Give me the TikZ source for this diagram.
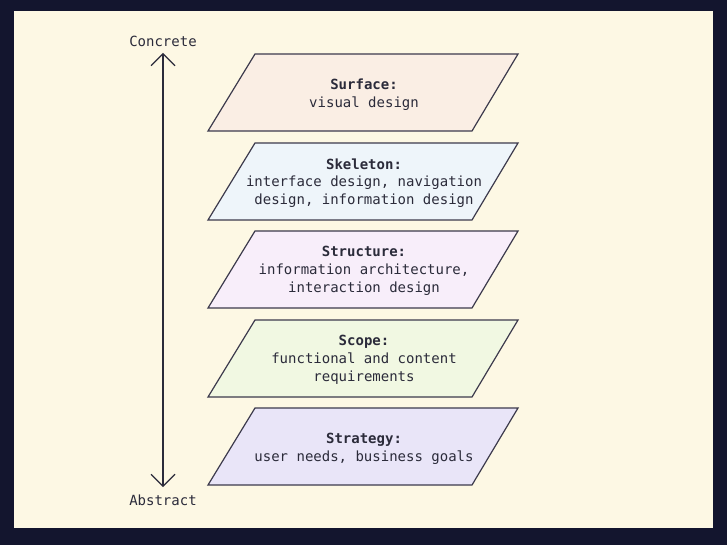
\documentclass[tikz,border=0pt]{standalone}
\usepackage{fontspec}
\setmonofont{DejaVu Sans Mono}
\usetikzlibrary{arrows.meta}
\definecolor{frame}{HTML}{13152E}
\definecolor{bg}{HTML}{FDF8E4}
\definecolor{ink}{HTML}{2B2B3A}
\definecolor{edge}{HTML}{3C3A4C}
\definecolor{fsurf}{HTML}{FAEEE4}
\definecolor{fskel}{HTML}{EEF5FA}
\definecolor{fstruct}{HTML}{F8EEFA}
\definecolor{fscope}{HTML}{F1F8E2}
\definecolor{fstrat}{HTML}{E9E5F8}
\tikzset{
  layer/.style={draw=edge, line width=0.9pt, line join=miter},
  layertext/.style={text=ink, font=\ttfamily\fontsize{10.5}{13.3}\selectfont, align=center},
  endlabel/.style={text=ink, font=\ttfamily\fontsize{10.5}{13}\selectfont},
  axis/.style={draw=ink, line width=0.8pt, {Straight Barb[length=9pt,width=18pt,line width=0.8pt]}-{Straight Barb[length=9pt,width=18pt,line width=0.8pt]}}
}
\begin{document}
\begin{tikzpicture}[x=0.75pt,y=-0.75pt]
\useasboundingbox (0,0) rectangle (727,545);
\fill[frame] (0,0) rectangle (727,545);
\fill[bg] (14,11) rectangle (713,528);
% layers
\foreach \y/\c in {54/fsurf,143/fskel,231/fstruct,320/fscope,408/fstrat}{
  \filldraw[layer, fill=\c] (255,\y) -- (518,\y) -- (472,\y+77) -- (208,\y+77) -- cycle;
}
\node[layertext] (surface) at (364,94.5) {\textbf{Surface:}\\visual design};
\node[layertext] (skeleton) at (364,183) {\textbf{Skeleton:}\\interface design, navigation\\design, information design};
\node[layertext] (structure) at (364,271) {\textbf{Structure:}\\information architecture,\\interaction design};
\node[layertext] (scope) at (364,360) {\textbf{Scope:}\\functional and content\\requirements};
\node[layertext] (strategy) at (364,448.5) {\textbf{Strategy:}\\user needs, business goals};
% axis
\node[endlabel] (concrete) at (163,41) {Concrete};
\node[endlabel] (abstract) at (163,500) {Abstract};
\coordinate (top) at (163,53);
\coordinate (bot) at (163,487);
\draw[axis] (bot) -- (top);
\end{tikzpicture}
\end{document}
